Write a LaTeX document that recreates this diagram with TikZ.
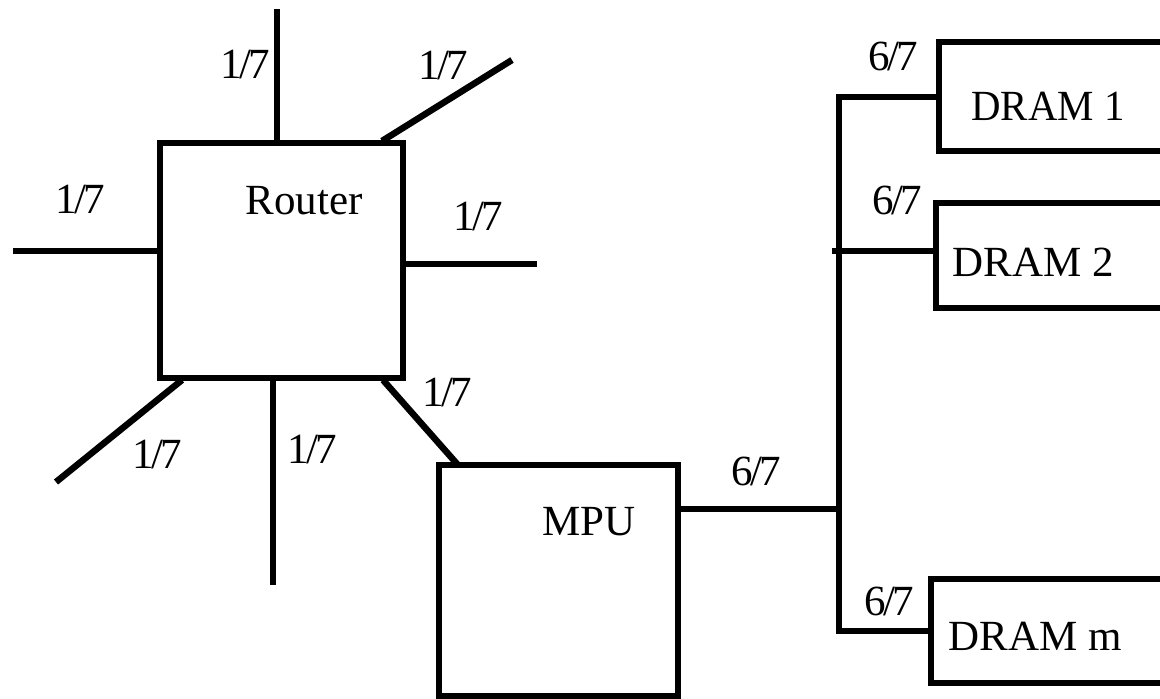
\documentclass[tikz,border=0pt]{standalone}
\usepackage{fontspec}
\setmainfont{Liberation Serif}
\usetikzlibrary{calc}
\newcommand{\frc}[2]{#1\kern-2.5pt/\kern-2.5pt#2}
\begin{document}
\begin{tikzpicture}[x=1pt,y=-1pt,
  wire/.style={line width=5.3pt},
  diag/.style={line width=6.5pt},
  boxnode/.style={draw, line width=5.3pt, inner sep=0pt, outer sep=0pt},
  txt/.style={font=\fontsize{43}{50}\selectfont, inner sep=0pt, anchor=base}]
\useasboundingbox (0,0) rectangle (1160,699);
\clip (0,0) rectangle (1160,699);
% boxes
\node[boxnode, minimum width=243pt, minimum height=235pt] (router) at (281.5,260.5) {};
\node[boxnode, minimum width=239pt, minimum height=231pt] (mpu) at (558.5,580.5) {};
\node[boxnode, minimum width=261pt, minimum height=109pt] (d1) at (1069.5,96.5) {};
\node[boxnode, minimum width=264pt, minimum height=105pt] (d2) at (1068,255.5) {};
\node[boxnode, minimum width=269pt, minimum height=104pt] (dm) at (1065.5,631) {};
% box texts
\node[txt] (routertxt) at (304,214) {Router};
\node[txt] (mputxt) at (589,535) {MPU};
\node[txt, xscale=0.95] (d1txt) at (1048,120) {DRAM 1};
\node[txt] (d2txt) at (1033,276) {DRAM 2};
\node[txt] (dmtxt) at (1035,650) {DRAM m};
% free ends
\coordinate (a1) at (277,9);
\coordinate (a2) at (512,60);
\coordinate (a3) at (13,251);
\coordinate (a4) at (537,264);
\coordinate (a5) at (56,482);
\coordinate (a6) at (273,585);
\coordinate (b1) at (839,509);
\coordinate (btop) at (839,97);
\coordinate (bbot) at (839,631);
\coordinate (b2) at (832,251);
% router links
\draw[wire] (a1) -- (a1 |- router.north);
\draw[diag] ($(router.north east)+(-21,-2)$) -- (a2);
\draw[wire] (a3) -- (a3 -| router.west);
\draw[wire] (a4 -| router.east) -- (a4);
\draw[diag] ($(router.south west)+(22,2)$) -- (a5);
\draw[wire] (a6 |- router.south) -- (a6);
\draw[diag] ($(router.south east)+(-20,2)$) -- ($(mpu.north west)+(19,0)$);
% bus
\draw[wire] (b1 -| mpu.east) -- (b1);
\draw[wire] (btop -| d1.west) -- (btop) -- (bbot) -- (bbot -| dm.west);
\draw[wire] (b2) -- (b2 -| d2.west);
% labels
\node[txt] (l1) at (245,78) {\frc{1}{7}};
\node[txt] (l2) at (443,79) {\frc{1}{7}};
\node[txt] (l3) at (80,213) {\frc{1}{7}};
\node[txt] (l4) at (478,230) {\frc{1}{7}};
\node[txt] (l5) at (157,468) {\frc{1}{7}};
\node[txt] (l6) at (312,463) {\frc{1}{7}};
\node[txt] (l7) at (447,406) {\frc{1}{7}};
\node[txt] (l8) at (756,485) {\frc{6}{7}};
\node[txt] (l9) at (893,70) {\frc{6}{7}};
\node[txt] (l10) at (897,214) {\frc{6}{7}};
\node[txt] (l11) at (889,615) {\frc{6}{7}};
\end{tikzpicture}
\end{document}
